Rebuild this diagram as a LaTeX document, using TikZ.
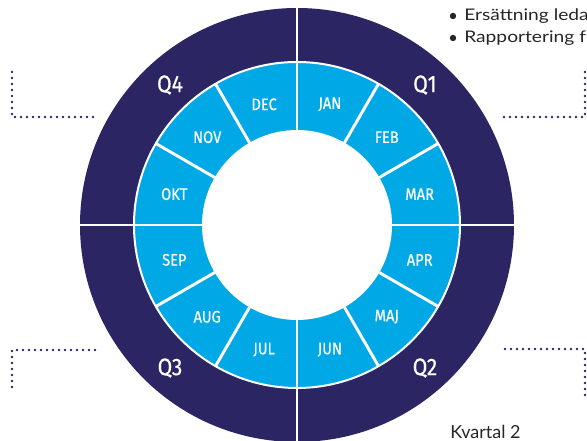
\documentclass[tikz,border=0pt]{standalone}
\usepackage{fontspec}
\usetikzlibrary{calc}
\setmainfont{Lato}
\newfontfamily\bodyfont[FakeStretch=1.2]{Lato}
\newfontfamily\dinfont[FakeStretch=0.88,FakeBold=0.4]{Fira Sans}
\definecolor{navy}{HTML}{2B2663}
\definecolor{sky}{HTML}{00A8E6}
\tikzset{
  month/.style={text=white, font=\dinfont\fontsize{12.5}{13}\selectfont, inner sep=0pt},
  qlabel/.style={text=white, font=\dinfont\fontsize{18}{19}\selectfont, inner sep=0pt},
  sep/.style={white, line width=2.2pt},
  bracket/.style={navy, line width=2.2pt, line cap=round, dash pattern=on 0pt off 4.5pt},
  bodytext/.style={font=\bodyfont\fontsize{12}{14}\selectfont, text=black!85, inner sep=0pt, anchor=base west}
}
\begin{document}
\begin{tikzpicture}[x=0.75pt,y=0.75pt]
\useasboundingbox (0,0) rectangle (587,441);
\clip (0,0) rectangle (587,441);
\coordinate (c) at (297,216);
% rings
\fill[navy] (c) circle (217);
\filldraw[fill=sky, draw=white, line width=1.5pt] (c) circle (163);
\fill[white] (c) circle (95);
% month separators
\foreach \a in {0,30,...,330}
  \draw[sep] ($(c)+(\a:95)$) -- ($(c)+(\a:163)$);
% quadrant separators
\foreach \a in {0,90,180,270}
  \draw[sep] ($(c)+(\a:160)$) -- ($(c)+(\a:222)$);
% months
\foreach \n/\a in {JAN/75,FEB/45,MAR/15,APR/-15,MAJ/-45,JUN/-75,JUL/-105,AUG/-135,SEP/-165,OKT/165,NOV/135,DEC/105}
  \node[month] (m\n) at ($(c)+(\a:127)+(0,-2)$) {\n};
% quarters
\node[qlabel] (q1) at (425,356) {Q1};
\node[qlabel] (q2) at (425,73) {Q2};
\node[qlabel] (q3) at (170,73) {Q3};
\node[qlabel] (q4) at (170,356) {Q4};
% dotted brackets
\coordinate (tl1) at (12,369); \coordinate (tl2) at (12,324); \coordinate (tl3) at (97,324);
\coordinate (tr1) at (585,369); \coordinate (tr2) at (585,324); \coordinate (tr3) at (503,324);
\coordinate (bl1) at (12,54); \coordinate (bl2) at (12,91); \coordinate (bl3) at (97,91);
\coordinate (br1) at (585,46); \coordinate (br2) at (585,92); \coordinate (br3) at (502,92);
\draw[bracket] (tl1) -- (tl2) -- (tl3);
\draw[bracket] (tr1) -- (tr2) -- (tr3);
\draw[bracket] (bl1) -- (bl2) -- (bl3);
\draw[bracket] (br1) -- (br2) -- (br3);
% text
\node[bodytext] (t1) at (464,420) {Ersättning leda};
\node[bodytext] (t2) at (464,398) {Rapportering f};
\fill[black!85] (453,425) circle (3.2) coordinate (b1);
\fill[black!85] (453,403) circle (3.2) coordinate (b2);
\node[bodytext, font=\fontsize{13.5}{15}\selectfont] (k2) at (450,2) {Kvartal 2};
\end{tikzpicture}
\end{document}
